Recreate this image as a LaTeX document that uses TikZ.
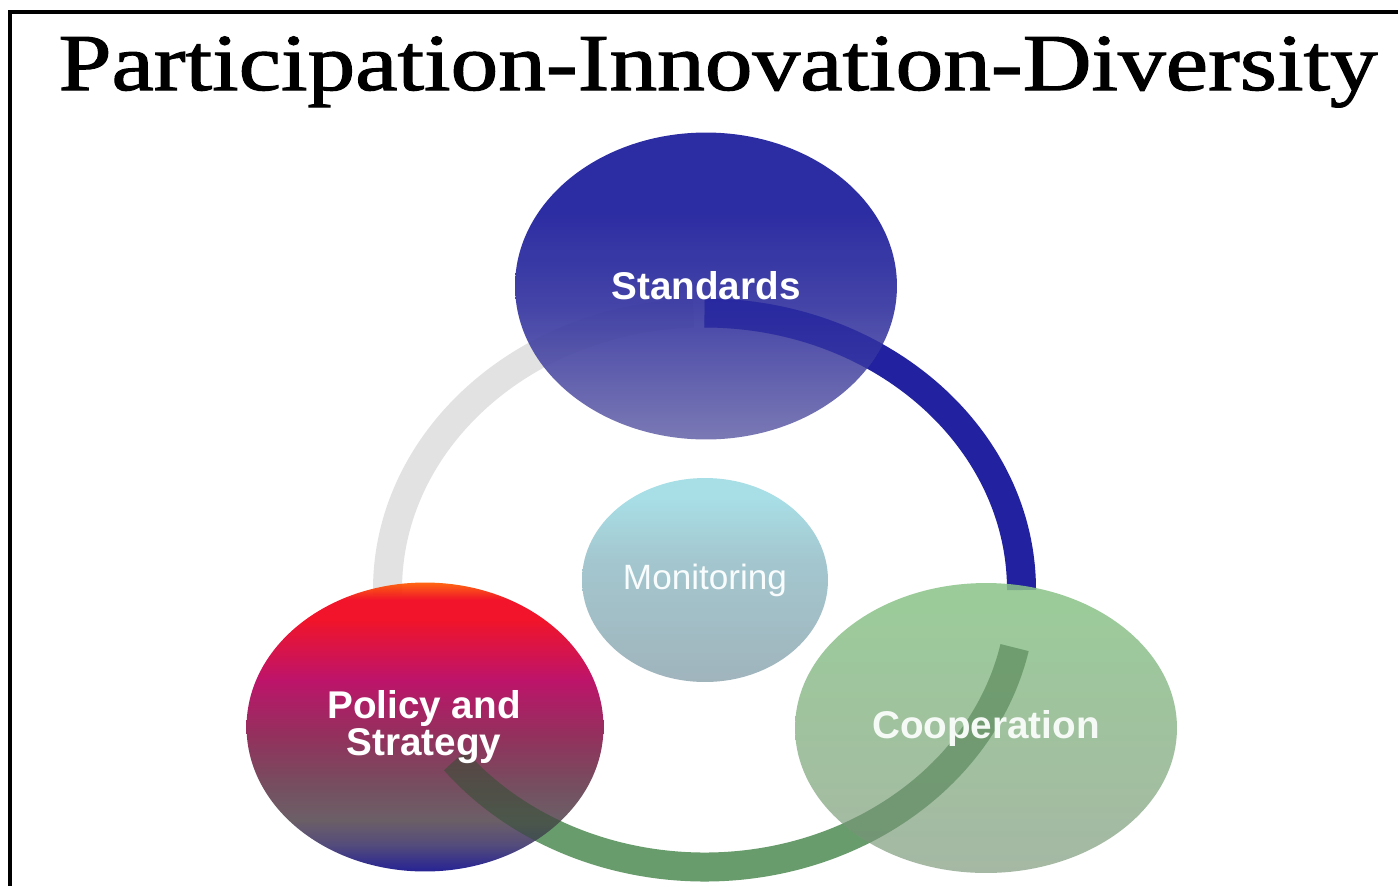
\documentclass[tikz,border=0pt]{standalone}
\usepackage{fontspec}
\setmainfont{Liberation Serif}
\setsansfont{Liberation Sans}
\newfontfamily\titlefont{Liberation Serif}[FakeBold=1.3]
\usetikzlibrary{shapes.geometric}

% colours of the bubbles and the ring
\definecolor{stdtop}{RGB}{28,28,156}
\definecolor{stdmid}{RGB}{50,50,160}
\definecolor{stdbot}{RGB}{112,110,174}
\definecolor{montop}{RGB}{168,222,230}
\definecolor{monbot}{RGB}{160,180,188}
\definecolor{coptop}{RGB}{138,196,136}
\definecolor{copbot}{RGB}{150,172,148}
\definecolor{polorange}{RGB}{255,90,0}
\definecolor{polred}{RGB}{240,0,24}
\definecolor{polmagenta}{RGB}{184,0,94}
\definecolor{polplum}{RGB}{138,32,80}
\definecolor{polmauve}{RGB}{106,64,82}
\definecolor{polgray}{RGB}{96,82,90}
\definecolor{polslate}{RGB}{70,62,112}
\definecolor{polblue}{RGB}{20,16,140}
\definecolor{ringgray}{RGB}{226,226,226}
\definecolor{ringblue}{RGB}{34,34,160}
\definecolor{ringgreen}{RGB}{104,156,108}

\pgfdeclareverticalshading{standshade}{100bp}{color(0bp)=(stdbot); color(25bp)=(stdbot); color(48bp)=(stdmid); color(62bp)=(stdtop); color(100bp)=(stdtop)}
\pgfdeclareverticalshading{monshade}{100bp}{color(0bp)=(monbot); color(25bp)=(monbot); color(55bp)=(monbot!55!montop); color(70bp)=(montop); color(100bp)=(montop)}
\pgfdeclareverticalshading{coopshade}{100bp}{color(0bp)=(copbot); color(25bp)=(copbot); color(75bp)=(coptop); color(100bp)=(coptop)}
\pgfdeclareverticalshading{policyshade}{100bp}{color(0bp)=(polblue); color(25bp)=(polblue); color(29.7bp)=(polslate); color(34bp)=(polgray); color(39.7bp)=(polmauve); color(48.4bp)=(polplum); color(58.2bp)=(polmagenta); color(68.6bp)=(polred); color(72bp)=(polred); color(75bp)=(polorange); color(100bp)=(polorange)}

\tikzset{
  bubble/.style={ellipse, inner sep=0pt, shade},
  bubbletext/.style={font=\sffamily\bfseries\fontsize{22}{21}\selectfont, text=white, align=center},
  ringband/.style={line width=0.58cm},
  heading/.style={font=\titlefont\fontsize{46}{50}\selectfont, anchor=base, xscale=1.18}
}

\begin{document}
\begin{tikzpicture}[x=0.02cm, y=0.02cm]
\useasboundingbox (0,0) rectangle (1398,-886);
\fill[white] (0,0) rectangle (1398,-886);

% frame, only top and left edges show
\draw[line width=0.08cm, line join=miter] (1398,-11.5) -- (10,-11.5) -- (10,-886);

% title
\node[heading] (title) at (718,-90) {Participation-Innovation-Diversity};

% the ring under the bubbles
\coordinate (ring) at (704.5,-590);
\draw[ringband, ringgray] (ring) ++(92:317 and 277) arc[start angle=92, end angle=181, x radius=317, y radius=277];
\draw[ringband, ringblue] (ring) ++(0:317 and 277) arc[start angle=0, end angle=90, x radius=317, y radius=277];
\draw[ringband, ringgreen] (ring) ++(218:317 and 277) arc[start angle=218, end angle=348, x radius=317, y radius=277];

% bubbles
\node[bubble, shading=standshade, fill opacity=0.92, minimum width=7.64cm, minimum height=6.14cm] (standards) at (706,-286) {};
\node[bubble, shading=monshade, minimum width=4.92cm, minimum height=4.08cm] (monitoring) at (705,-580) {};
\node[bubble, shading=policyshade, fill opacity=0.92, minimum width=7.14cm, minimum height=5.78cm] (policy) at (425,-727) {};
\node[bubble, shading=coopshade, fill opacity=0.85, minimum width=7.64cm, minimum height=5.80cm] (cooperation) at (986,-728) {};

% ring seen through the bubbles
\begin{scope}
\clip (standards.center) ellipse [x radius=191, y radius=153.5];
\draw[ringband, ringblue, opacity=0.55] (ring) ++(0:317 and 277) arc[start angle=0, end angle=90, x radius=317, y radius=277];
\end{scope}
\begin{scope}
\clip (policy.center) ellipse [x radius=178.5, y radius=144.5];
\draw[ringband, ringgreen!55!black, opacity=0.5] (ring) ++(218:317 and 277) arc[start angle=218, end angle=348, x radius=317, y radius=277];
\end{scope}
\begin{scope}
\clip (cooperation.center) ellipse [x radius=191, y radius=145];
\draw[ringband, ringgreen!80!black, opacity=0.45] (ring) ++(218:317 and 277) arc[start angle=218, end angle=348, x radius=317, y radius=277];
\end{scope}

% labels
\node[bubbletext] (standardslabel) at (standards) {Standards};
\node[bubbletext, font=\sffamily\fontsize{20}{20}\selectfont, text=white!92!montop] (monitoringlabel) at (monitoring) {Monitoring};
\node[bubbletext] (policylabel) at (424,-727) {Policy and\\Strategy};
\node[bubbletext, text=white!92!coptop] (cooperationlabel) at (cooperation) {Cooperation};
\end{tikzpicture}
\end{document}
